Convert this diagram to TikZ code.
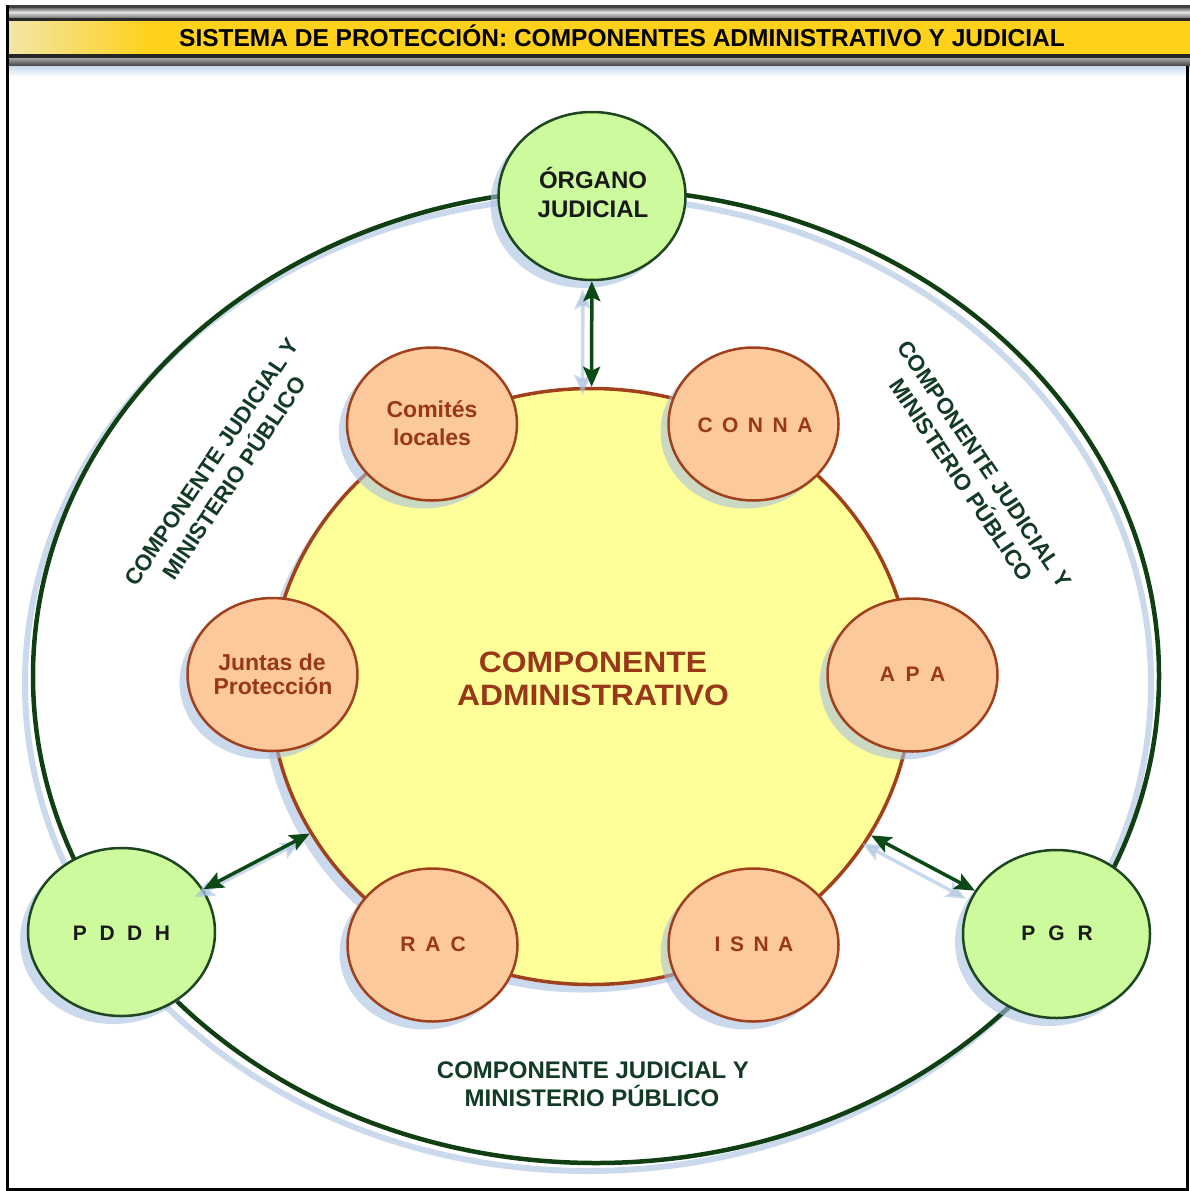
\documentclass[tikz,border=0pt]{standalone}
\usepackage{fontspec}
\setmainfont{Liberation Sans}
\usetikzlibrary{arrows.meta,shapes.geometric,shadows}
\definecolor{greenfill}{HTML}{CCFA9C}
\definecolor{greenline}{HTML}{1E4620}
\definecolor{orangefill}{HTML}{FCC99C}
\definecolor{brownline}{HTML}{A0401C}
\definecolor{browntext}{HTML}{993818}
\definecolor{yellowfill}{HTML}{FFFF99}
\definecolor{ringgreen}{HTML}{0F3F12}
\definecolor{arrowgreen}{HTML}{0B4A16}
\definecolor{labelgreen}{HTML}{123A26}
\definecolor{shadowblue}{HTML}{A9C0E0}
\definecolor{gold}{HTML}{FFD11A}
\definecolor{paleyellow}{HTML}{F2E6A8}
\definecolor{bandblue}{HTML}{C9D9EE}
\tikzset{
  bubshadow/.style={drop shadow={shadow xshift=-8pt, shadow yshift=-8pt, fill=shadowblue, opacity=0.6}},
  greenbub/.style={ellipse, draw=greenline, fill=greenfill, line width=2.5pt, minimum width=187pt, minimum height=168pt, inner sep=0pt, bubshadow},
  orangebub/.style={ellipse, draw=brownline, fill=orangefill, line width=2.5pt, minimum width=170pt, minimum height=153pt, inner sep=0pt, bubshadow},
  gtext/.style={font=\bfseries\fontsize{24}{28}\selectfont, text=black!90, anchor=base, inner sep=0pt},
  gspaced/.style={font=\bfseries\fontsize{21}{25}\selectfont, text=black!90, anchor=base, inner sep=0pt},
  otext/.style={font=\bfseries\fontsize{23}{28}\selectfont, text=browntext, anchor=base, inner sep=0pt},
  ospaced/.style={font=\bfseries\fontsize{21}{25}\selectfont, text=browntext, anchor=base, inner sep=0pt},
  ctext/.style={font=\bfseries\fontsize{29.5}{34}\selectfont, text=browntext, anchor=base, inner sep=0pt},
  jlabel/.style={font=\bfseries\fontsize{22.5}{28}\selectfont, text=labelgreen, align=center, inner sep=0pt},
  jlabelb/.style={font=\bfseries\fontsize{24}{28}\selectfont, text=labelgreen, anchor=base, inner sep=0pt},
  biarrow/.style={draw=arrowgreen, line width=3.5pt, {Stealth[length=20pt,width=17pt,inset=4pt]}-{Stealth[length=20pt,width=17pt,inset=4pt]}},
  arrowshadow/.style={draw=shadowblue, opacity=0.6, line width=3.5pt, {Stealth[length=20pt,width=17pt,inset=4pt]}-{Stealth[length=20pt,width=17pt,inset=4pt]}, transform canvas={shift={(-9,8)}}}
}
\begin{document}
\begin{tikzpicture}[x=1pt,y=-1pt]
\path[use as bounding box] (0,0) rectangle (1190,1191);
\fill[white] (0,0) rectangle (1190,1191);
% title band
\fill[black!75] (8,5) rectangle (1190,8);
\shade[top color=black!55, bottom color=black!12] (8,8) rectangle (1190,12);
\shade[top color=black!10, bottom color=black!55] (8,12) rectangle (1190,18);
\fill[black!85] (8,18) rectangle (1190,21);
\fill[gold] (8,21) rectangle (1190,54);
\shade[left color=paleyellow, right color=gold] (8,21) rectangle (150,54);
\fill[black!85] (8,54) rectangle (1190,58);
\shade[top color=black!35, bottom color=black!75] (8,58) rectangle (1190,66);
\shade[top color=bandblue, bottom color=white] (8,66) rectangle (1190,77);
\node[font=\bfseries\fontsize{24.5}{28}\selectfont, anchor=base, inner sep=0pt] (title) at (622,46) {SISTEMA DE PROTECCIÓN: COMPONENTES ADMINISTRATIVO Y JUDICIAL};
% frame
\draw[line width=3pt] (7,5) -- (7,1189) -- (1187,1189) -- (1187,66);
% outer ring
\draw[shadowblue, opacity=0.6, line width=6pt] (588,684) ellipse [x radius=563pt, y radius=487pt];
\node[ellipse, draw=ringgreen, line width=4.5pt, minimum width=1126pt, minimum height=974pt, inner sep=0pt] (ring) at (596,676) {};
% administrative core
\node[ellipse, draw=brownline, fill=yellowfill, line width=3.5pt, minimum width=642pt, minimum height=596pt, inner sep=0pt, bubshadow] (inner) at (591,686.5) {};
\node[ctext] (coreA) at (593,672) {\scalebox{1.08}[1]{COMPONENTE}};
\node[ctext] (coreB) at (593,705) {\scalebox{1.08}[1]{ADMINISTRATIVO}};
% orange bubbles
\node[orangebub] (comites) at (432,424) {};
\node[orangebub] (conna) at (753.5,424) {};
\node[orangebub] (juntas) at (272.5,674.5) {};
\node[orangebub] (apa) at (912.5,675) {};
\node[orangebub] (rac) at (432.5,945) {};
\node[orangebub] (isna) at (753.5,945) {};
\node[otext] (comA) at (432,417) {Comités};
\node[otext] (comB) at (432,445) {locales};
\node[ospaced] (connaT) at (755,432) {C\hspace{9.5pt}O\hspace{9.5pt}N\hspace{9.5pt}N\hspace{9.5pt}A};
\node[otext] (junA) at (272,670) {Juntas de};
\node[otext] (junB) at (273,694) {Protección};
\node[ospaced] (apaT) at (912.5,681) {A\hspace{10.5pt}P\hspace{10.5pt}A};
\node[ospaced] (racT) at (433,951) {R\hspace{10pt}A\hspace{10pt}C};
\node[ospaced] (isnaT) at (754,951) {I\hspace{9.5pt}S\hspace{9.5pt}N\hspace{9.5pt}A};
% green bubbles
\node[greenbub] (organo) at (592,196) {};
\node[greenbub] (pddh) at (121.5,932) {};
\node[greenbub] (pgr) at (1056.5,934) {};
\node[gtext] (organoA) at (593,188.5) {ÓRGANO};
\node[gtext] (organoB) at (593,217) {JUDICIAL};
\node[gspaced] (pddhT) at (121.5,940) {P\hspace{12.5pt}D\hspace{12.5pt}D\hspace{12.5pt}H};
\node[gspaced] (pgrT) at (1057,940) {P\hspace{13pt}G\hspace{13pt}R};
% arrows
\draw[arrowshadow] (organo) -- (inner);
\draw[arrowshadow] (pddh) -- (inner);
\draw[arrowshadow] (pgr) -- (inner);
\draw[biarrow] (organo) -- (inner);
\draw[biarrow] (pddh) -- (inner);
\draw[biarrow] (pgr) -- (inner);
% judicial labels
\node[jlabel, rotate=56] (labL) at (223,470) {COMPONENTE JUDICIAL Y\\MINISTERIO PÚBLICO};
\node[jlabel, rotate=-56] (labR) at (973,472) {COMPONENTE JUDICIAL Y\\MINISTERIO PÚBLICO};
\node[jlabelb] (labBA) at (593,1078) {COMPONENTE JUDICIAL Y};
\node[jlabelb] (labBB) at (592,1106) {MINISTERIO PÚBLICO};
\end{tikzpicture}
\end{document}
